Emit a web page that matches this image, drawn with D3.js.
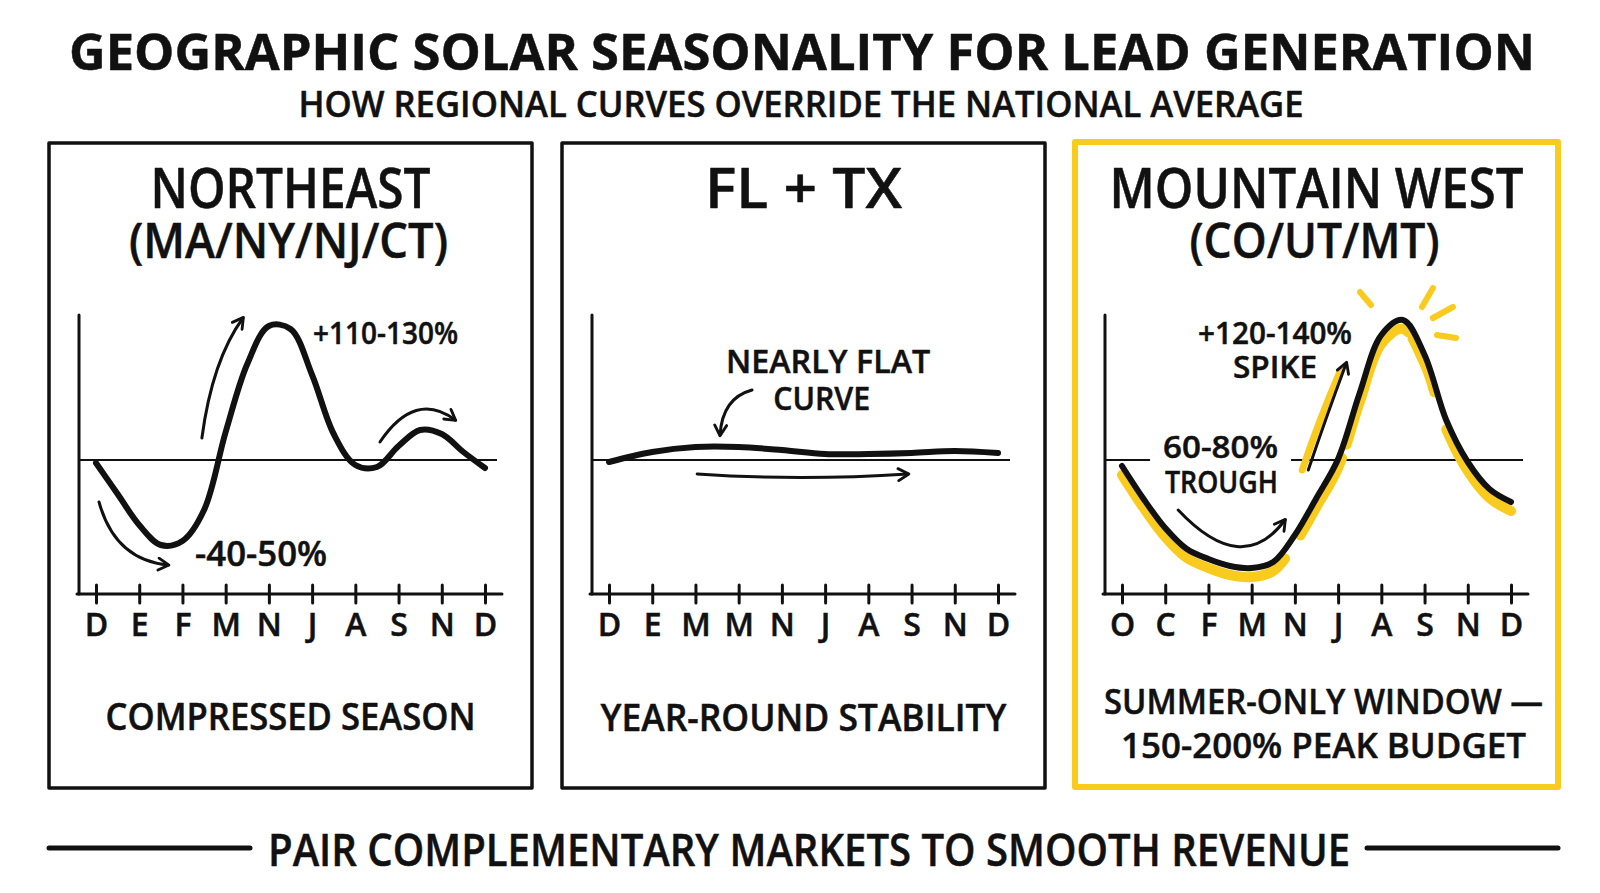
<!DOCTYPE html>
<html>
<head>
<meta charset="utf-8">
<script src="https://cdn.jsdelivr.net/npm/d3@7"></script>
<style>
  html, body { margin: 0; padding: 0; background: #ffffff; }
  svg { display: block; }
  text { font-family: "Open Sans", "Noto Sans", sans-serif; fill: #111111; }
</style>
</head>
<body>
<svg id="chart" width="1600" height="893"></svg>
<script>
// Month tick labels, as printed under each panel
const MONTHS_NE = ['D', 'E', 'F', 'M', 'N', 'J', 'A', 'S', 'N', 'D'];
const MONTHS_FLTX = ['D', 'E', 'M', 'M', 'N', 'J', 'A', 'S', 'N', 'D'];
const MONTHS_MW = ['O', 'C', 'F', 'M', 'N', 'J', 'A', 'S', 'N', 'D'];

// Lead volume vs. national average (index units, 0 = national line),
// sampled every half tick for the seasonal curves, every tick for FL + TX
const NE_VALUES = [-3, -34, -65, -85, -81, -50, 28, 96, 134, 131, 85, 26, -5, -7, 14, 30, 26, 8, -8];
const FLTX_VALUES = [-2, 8, 13, 13, 10, 6, 6, 7, 9, 7];
const MW_VALUES = [-6, -39, -68, -89, -99, -106, -108, -102, -75, -38, 1, 67, 125, 140, 105, 40, -2, -29, -42];

const PANEL_TITLES = ['NORTHEAST', 'FL + TX', 'MOUNTAIN WEST'];
const PANEL_SUBTITLES = ['(MA/NY/NJ/CT)', '', '(CO/UT/MT)'];
const PANEL_CAPTIONS = [['COMPRESSED SEASON'], ['YEAR-ROUND STABILITY'], ['SUMMER-ONLY WINDOW —', '150-200% PEAK BUDGET']];

const TITLE = 'GEOGRAPHIC SOLAR SEASONALITY FOR LEAD GENERATION';
const SUBTITLE = 'HOW REGIONAL CURVES OVERRIDE THE NATIONAL AVERAGE';
const FOOTER = 'PAIR COMPLEMENTARY MARKETS TO SMOOTH REVENUE';

const INK = '#111111';
const YELLOW = '#F8CB1E';

const svg = d3.select('#chart');

// Arrowhead marker (open chevron)
svg.append('defs').append('marker')
  .attr('id', 'arrow')
  .attr('viewBox', '0 0 10 10')
  .attr('refX', 8).attr('refY', 5)
  .attr('markerUnits', 'userSpaceOnUse')
  .attr('markerWidth', 15).attr('markerHeight', 15)
  .attr('orient', 'auto')
  .append('path')
  .attr('d', 'M1.5,1 L8.5,5 L1.5,9')
  .attr('fill', 'none')
  .attr('stroke', INK)
  .attr('stroke-width', 1.9)
  .attr('stroke-linecap', 'round')
  .attr('stroke-linejoin', 'round');

function label(g, str, x, y, size, width, weight) {
  return g.append('text')
    .attr('x', x).attr('y', y)
    .attr('text-anchor', 'middle')
    .attr('font-size', size)
    .attr('font-weight', weight || 600)
    .attr('textLength', width)
    .attr('lengthAdjust', 'spacingAndGlyphs')
    .attr('stroke', INK)
    .attr('stroke-width', 0.5)
    .attr('stroke-linejoin', 'round')
    .text(str);
}

// Header
label(svg, TITLE, 802, 70, 51, 1466, 700);
label(svg, SUBTITLE, 801, 117, 36, 1005, 600);

// Footer with rules either side
label(svg, FOOTER, 809, 866, 46, 1082, 600);
[[49, 250], [1367, 1558]].forEach(([a, b]) => {
  svg.append('line')
    .attr('x1', a).attr('x2', b).attr('y1', 848).attr('y2', 848)
    .attr('stroke', INK).attr('stroke-width', 5).attr('stroke-linecap', 'round');
});

// Panel layout
const PANEL_LEFT = [49, 562, 1075];
const PANEL_W = 483;
const PANEL_TOP = 143;
const PANEL_BOTTOM = 788;
const AXIS_Y = 594;
const AXIS_TOP = 315;

const y = d3.scaleLinear().domain([-134, 145]).range([AXIS_Y, AXIS_TOP]);

const panels = [
  {
    months: MONTHS_NE, values: NE_VALUES, step: 0.5, highlight: false,
    titleWidth: 280, subWidth: 319, captionWidths: [370], captionY: [730], captionSize: 38,
    notes: [
      { text: '+110-130%', i: 6.70, v: 116, size: 31, width: 145 },
      { text: '-40-50%', i: 3.82, v: -106, size: 35, width: 132 }
    ],
    arrows: [
      [[0.07, -42], [0.44, -100], [1.67, -105]],
      [[2.45, 22], [2.69, 100], [3.40, 142]],
      [[6.57, 18], [7.38, 70], [8.31, 40]]
    ]
  },
  {
    months: MONTHS_FLTX, values: FLTX_VALUES, step: 1, highlight: false,
    titleWidth: 197, subWidth: 0, captionWidths: [406], captionY: [731], captionSize: 38,
    notes: [
      { text: 'NEARLY FLAT', i: 5.07, v: 87, size: 32, width: 204 },
      { text: 'CURVE', i: 4.92, v: 50, size: 32, width: 97 }
    ],
    arrows: [
      [[2.04, -14], [4.42, -21], [6.92, -14]],
      [[3.31, 70], [2.62, 62], [2.57, 25]]
    ]
  },
  {
    months: MONTHS_MW, values: MW_VALUES, step: 0.5, highlight: true,
    titleWidth: 414, subWidth: 250, captionWidths: [439, 405], captionY: [714, 758], captionSize: 35,
    notes: [
      { text: '+120-140%', i: 3.54, v: 116, size: 30, width: 154 },
      { text: 'SPIKE', i: 3.54, v: 82, size: 31, width: 84 },
      { text: '60-80%', i: 2.28, v: 2, size: 31, width: 115, knock: true },
      { text: 'TROUGH', i: 2.30, v: -33, size: 31, width: 113, knock: true }
    ],
    arrows: [
      [[1.30, -50], [2.78, -118], [3.77, -60]],
      [[4.31, -10], [4.70, 40], [5.19, 97]]
    ],
    // breaks in the yellow highlighter stroke, in tick units
    gaps: [[3.77, 4.12], [5.09, 5.19], [6.60, 6.72], [7.22, 7.50]]
  }
];

panels.forEach((p, k) => {
  const left = PANEL_LEFT[k];
  const g = svg.append('g');
  const x = d3.scaleLinear().domain([0, 9]).range([left + 47, left + 436]);
  const cx = left + PANEL_W / 2;

  // Frame
  g.append('rect')
    .attr('x', left).attr('y', p.highlight ? PANEL_TOP - 1 : PANEL_TOP)
    .attr('width', PANEL_W).attr('height', PANEL_BOTTOM - PANEL_TOP)
    .attr('fill', 'none')
    .attr('stroke', p.highlight ? YELLOW : INK)
    .attr('stroke-width', p.highlight ? 6 : 3.5)
    .attr('stroke-linejoin', 'round');

  // Titles
  label(g, PANEL_TITLES[k], cx, 208, 56, p.titleWidth, 600);
  if (PANEL_SUBTITLES[k]) label(g, PANEL_SUBTITLES[k], cx - 2, 258, 48, p.subWidth, 600);
  PANEL_CAPTIONS[k].forEach((c, j) => {
    label(g, c, cx + (k === 2 ? 7 : 0), p.captionY[j], p.captionSize, p.captionWidths[j], 600);
  });

  // Y axis and x axis lines
  const axisX = left + 30;
  g.append('line')
    .attr('x1', axisX).attr('x2', axisX).attr('y1', AXIS_TOP).attr('y2', AXIS_Y)
    .attr('stroke', INK).attr('stroke-width', 3).attr('stroke-linecap', 'round');
  g.append('line')
    .attr('x1', axisX - 2).attr('x2', x(9) + 17).attr('y1', AXIS_Y).attr('y2', AXIS_Y)
    .attr('stroke', INK).attr('stroke-width', 3).attr('stroke-linecap', 'round');

  const axis = d3.axisBottom(x)
    .tickValues(d3.range(10))
    .tickFormat(i => p.months[i])
    .tickSize(9)
    .tickPadding(0);
  const ax = g.append('g')
    .attr('transform', `translate(0,${AXIS_Y})`)
    .call(axis)
    .attr('font-family', null)
    .attr('font-size', null);
  ax.select('.domain').remove();
  ax.selectAll('.tick line')
    .attr('y1', -9).attr('y2', 9)
    .attr('stroke', INK).attr('stroke-width', 3).attr('stroke-linecap', 'round');
  ax.selectAll('.tick text')
    .attr('y', 42).attr('dy', null)
    .attr('font-size', 32).attr('font-weight', 600)
    .attr('fill', INK).attr('stroke', INK).attr('stroke-width', 0.5);

  // Annotations text (placed in chart units)
  const noteG = g.append('g');
  p.notes.forEach(n => label(noteG, n.text, x(n.i), y(n.v), n.size, n.width, 600));

  // National average line, broken around knocked-out labels
  const refEnd = x(9) + 12;
  let pieces = [[axisX, refEnd]];
  const knocked = noteG.selectAll('text').filter((d, i) => p.notes[i].knock);
  if (!knocked.empty()) {
    let a = Infinity, b = -Infinity;
    knocked.each(function () {
      const bb = this.getBBox();
      a = Math.min(a, bb.x); b = Math.max(b, bb.x + bb.width);
    });
    pieces = [[axisX, a - 13], [b + 13, refEnd]];
  }
  pieces.forEach(([a, b]) => {
    g.append('line')
      .attr('x1', a).attr('x2', b).attr('y1', y(0)).attr('y2', y(0))
      .attr('stroke', INK).attr('stroke-width', 2);
  });

  const line = d3.line()
    .x((d, i) => x(i * p.step))
    .y(d => y(d))
    .curve(d3.curveCatmullRom.alpha(0.5));

  // Yellow highlighter behind the Mountain West curve
  if (p.highlight) {
    const hl = g.append('path')
      .datum(p.values)
      .attr('d', line)
      .attr('transform', 'translate(0,9)')
      .attr('fill', 'none')
      .attr('stroke', YELLOW)
      .attr('stroke-width', 10)
      .attr('stroke-linecap', 'round');
    const node = hl.node();
    const L = node.getTotalLength();
    const gapPx = p.gaps.map(([a, b]) => [x(a), x(b)]);
    const dash = [];
    let state = true, run = 0;
    for (let s = 0; s < L; s += 1) {
      const pt = node.getPointAtLength(s);
      const vis = !gapPx.some(([a, b]) => pt.x >= a && pt.x <= b);
      if (vis !== state) { dash.push(run); run = 0; state = vis; }
      run += 1;
    }
    dash.push(run);
    if (dash.length % 2 === 1) dash.push(L);
    hl.attr('stroke-dasharray', dash.join(' '));

    // glow under the spike arrow
    const sp = p.arrows[1];
    const ph = d3.path();
    ph.moveTo(x(sp[0][0]) - 6, y(sp[0][1]));
    ph.quadraticCurveTo(x(sp[1][0]) - 6, y(sp[1][1]), x(sp[2][0]) - 6, y(sp[2][1]) + 8);
    g.append('path')
      .attr('d', ph.toString())
      .attr('fill', 'none')
      .attr('stroke', YELLOW)
      .attr('stroke-width', 7)
      .attr('stroke-linecap', 'round');

    // sun rays around the peak
    const peakIdx = d3.maxIndex(p.values);
    const px = x(peakIdx * p.step) - 3, py = y(p.values[peakIdx]) - 2;
    const rays = [[-40, -26, -29, -13], [33, -30, 22, -11], [53, -11, 33, 0], [37, 17, 56, 20]];
    rays.forEach(([x1, y1, x2, y2]) => {
      g.append('line')
        .attr('x1', px + x1).attr('y1', py + y1).attr('x2', px + x2).attr('y2', py + y2)
        .attr('stroke', YELLOW).attr('stroke-width', 6).attr('stroke-linecap', 'round');
    });
  }

  // Main curve
  g.append('path')
    .datum(p.values)
    .attr('d', line)
    .attr('fill', 'none')
    .attr('stroke', INK)
    .attr('stroke-width', 6)
    .attr('stroke-linecap', 'round')
    .attr('stroke-linejoin', 'round');

  // Arrows
  p.arrows.forEach(([s, c, e]) => {
    const path = d3.path();
    path.moveTo(x(s[0]), y(s[1]));
    path.quadraticCurveTo(x(c[0]), y(c[1]), x(e[0]), y(e[1]));
    g.append('path')
      .attr('d', path.toString())
      .attr('fill', 'none')
      .attr('stroke', INK)
      .attr('stroke-width', 3)
      .attr('stroke-linecap', 'round')
      .attr('marker-end', 'url(#arrow)');
  });
});
</script>
</body>
</html>
